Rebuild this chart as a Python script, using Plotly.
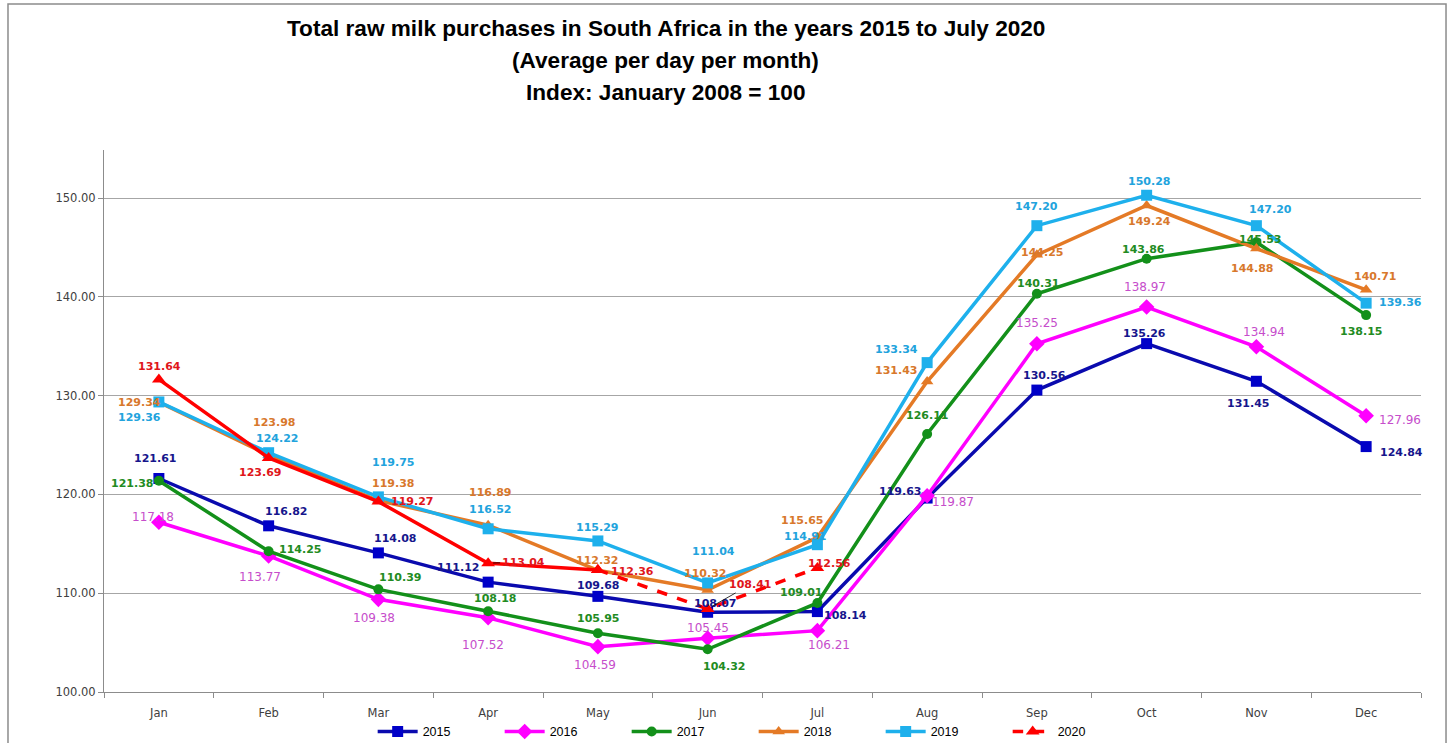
import plotly.graph_objects as go

months = ["Jan", "Feb", "Mar", "Apr", "May", "Jun", "Jul", "Aug", "Sep", "Oct", "Nov", "Dec"]

y2015 = [121.61, 116.82, 114.08, 111.12, 109.68, 108.07, 108.14, 119.63, 130.56, 135.26, 131.45, 124.84]
y2016 = [117.18, 113.77, 109.38, 107.52, 104.59, 105.45, 106.21, 119.87, 135.25, 138.97, 134.94, 127.96]
y2017 = [121.38, 114.25, 110.39, 108.18, 105.95, 104.32, 109.01, 126.11, 140.31, 143.86, 145.53, 138.15]
y2018 = [129.34, 123.98, 119.38, 116.89, 112.32, 110.32, 115.65, 131.43, 144.25, 149.24, 144.88, 140.71]
y2019 = [129.36, 124.22, 119.75, 116.52, 115.29, 111.04, 114.91, 133.34, 147.20, 150.28, 147.20, 139.36]
y2020 = [131.64, 123.69, 119.27, 113.04, 112.36, 108.41, 112.56]

yticks = [100, 110, 120, 130, 140, 150]

# label offsets in pixels (dx right, dy down) - styling only
off2015 = [(-4, -20), (17, -14), (17, -14), (-30, -15), (0, -11), (7, -9), (28, 4), (-27, -7), (8, -15), (-2, -10), (-8, 22), (35, 6)]
off2016 = [(-6, -5), (-9, 21), (-4, 19), (-5, 27), (-3, 18), (0, -10), (12, 14), (26, 6), (0, -21), (-2, -20), (8, -15), (34, 4)]
off2017 = [(-27, 3), (31, -2), (22, -12), (7, -13), (0, -15), (16, 17), (-16, -10), (0, -19), (1, -10), (-3, -9), (4, -3), (-5, 16)]
off2018 = [(-19, 0), (5, -33), (15, -17), (2, -33), (-1, -10), (-3, -17), (-15, -17), (-31, -11), (5, -2), (3, 16), (-4, 20), (9, -13)]
off2019 = [(-19, 16), (8, -14), (15, -34), (2, -19), (-1, -13), (6, -31), (-12, -8), (-31, -13), (0, -19), (2, -14), (14, -16), (34, -1)]
off2020 = [(1, -13), (-9, 15), (34, 0), (35, -1), (35, 2), (42, -24), (12, -4)]
leader2020 = [False, False, False, True, False, True, False]

LABEL_FONT = "DejaVu Sans, Verdana, sans-serif"
NARROW = "Liberation Sans Narrow, Arial Narrow, Liberation Sans, Arial, sans-serif"

styles = [
    dict(name="2015", y=y2015, off=off2015, line="#0A0AAE", marker="#0000C8", symbol="square", size=11, lab="#16168C", bold=True),
    dict(name="2016", y=y2016, off=off2016, line="#FF00FF", marker="#FF00FF", symbol="diamond", size=12, lab="#C64DCB", bold=False),
    dict(name="2017", y=y2017, off=off2017, line="#13901A", marker="#13901A", symbol="circle", size=10, lab="#228B22", bold=True),
    dict(name="2018", y=y2018, off=off2018, line="#E47A26", marker="#E47A26", symbol="triangle-up", size=11, lab="#D8782C", bold=True),
    dict(name="2019", y=y2019, off=off2019, line="#1EB0EC", marker="#1EB0EC", symbol="square", size=11, lab="#22A3DD", bold=True),
]

fig = go.Figure()
annotations = []

for s in styles:
    fig.add_trace(go.Scatter(
        x=months, y=s["y"], name=s["name"], mode="lines+markers",
        line=dict(color=s["line"], width=3.5),
        marker=dict(color=s["marker"], symbol=s["symbol"], size=s["size"]),
        hoverinfo="skip",
    ))
    for m, v, (dx, dy) in zip(months, s["y"], s["off"]):
        txt = f"{v:.2f}"
        if s["bold"]:
            txt = f"<b>{txt}</b>"
        annotations.append(dict(
            x=m, y=v, xref="x", yref="y", text=txt, showarrow=False,
            xshift=dx, yshift=-dy, xanchor="center", yanchor="middle",
            font=dict(family=LABEL_FONT, size=11 if s["bold"] else 12, color=s["lab"]),
        ))

# 2020: solid Jan-May, dashed May-Jul
red = "#FF0000"
fig.add_trace(go.Scatter(
    x=months[:5], y=y2020[:5], name="2020", mode="lines+markers", showlegend=False,
    line=dict(color=red, width=3.5),
    marker=dict(color=red, symbol="triangle-up", size=12), hoverinfo="skip",
))
fig.add_trace(go.Scatter(
    x=months[4:7], y=y2020[4:7], name="2020", mode="lines+markers",
    line=dict(color=red, width=3.5, dash="dash"),
    marker=dict(color=red, symbol="triangle-up", size=12), hoverinfo="skip",
))
for m, v, (dx, dy), lead in zip(months, y2020, off2020, leader2020):
    a = dict(
        x=m, y=v, xref="x", yref="y", text=f"<b>{v:.2f}</b>",
        font=dict(family=LABEL_FONT, size=11, color="#E0161B"),
    )
    if lead:
        a.update(showarrow=True, ax=dx, ay=dy, arrowhead=0, arrowwidth=0.8,
                 arrowcolor="#000000", standoff=5)
    else:
        a.update(showarrow=False, xshift=dx, yshift=-dy, xanchor="center", yanchor="middle")
    annotations.append(a)

# Title lines
title_lines = [
    "Total raw milk purchases in South Africa in the years 2015 to July 2020",
    "(Average per day per month)",
    "Index: January 2008 = 100",
]
for i, t in enumerate(title_lines):
    annotations.append(dict(
        x=0.4267, y=1.225 - i * 0.059, xref="paper", yref="paper",
        text=f"<b>{t}</b>", showarrow=False, xanchor="center", yanchor="middle",
        font=dict(family=NARROW, size=22.6, color="#000000"),
    ))

fig.update_layout(
    width=1453, height=743,
    margin=dict(l=104, r=32, t=150, b=51, autoexpand=False),
    paper_bgcolor="white", plot_bgcolor="white",
    annotations=annotations,
    showlegend=True,
    legend=dict(
        orientation="h", x=0.204, xanchor="left", y=-0.046, yanchor="top",
        font=dict(family=NARROW, size=12.5, color="#000000"),
        entrywidth=72, entrywidthmode="pixels", itemwidth=40,
        bgcolor="rgba(0,0,0,0)",
    ),
    shapes=[dict(
        type="rect", xref="paper", yref="paper",
        x0=-0.0729, x1=1.019, y0=-0.15, y1=1.2694,
        line=dict(color="#8C8C8C", width=1.5), fillcolor="rgba(0,0,0,0)", layer="below",
    )],
)

fig.update_xaxes(
    type="category", categoryorder="array", categoryarray=months,
    range=[-0.5, 11.5], showgrid=False, showline=True, linecolor="#8C8C8C", linewidth=1,
    ticks="outside", tickson="boundaries", ticklen=5, tickcolor="#8C8C8C",
    ticklabelstandoff=10,
    tickfont=dict(family=LABEL_FONT, size=11.5, color="#404040"),
    zeroline=False,
)
fig.update_yaxes(
    range=[100, 154.86], tickvals=yticks, ticktext=[f"{v:.2f}" for v in yticks],
    showgrid=True, gridcolor="#A6A6A6", gridwidth=1,
    showline=True, linecolor="#8C8C8C", linewidth=1,
    ticks="outside", ticklen=5, tickcolor="#8C8C8C",
    tickfont=dict(family=LABEL_FONT, size=11.5, color="#404040"),
    zeroline=False,
)

fig.write_html("out.html")
